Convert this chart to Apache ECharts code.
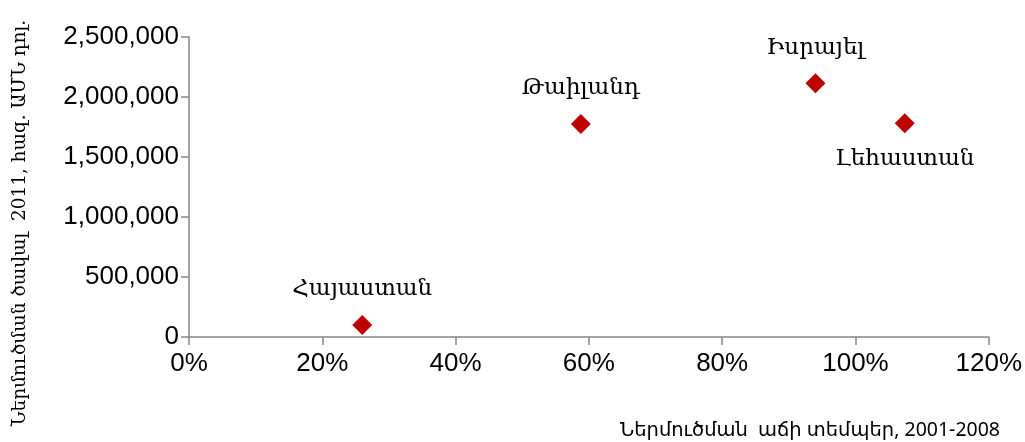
<!DOCTYPE html>
<html>
<head>
<meta charset="utf-8">
<script src="https://cdn.jsdelivr.net/npm/echarts@6/dist/echarts.min.js"></script>
<style>
  html, body { margin: 0; padding: 0; background: #fff; }
  #chart { width: 1025px; height: 442px; }
</style>
</head>
<body>
<div id="chart"></div>
<script>
// երկրներ, աճի տեմպ (%), ծավալ
var countries = ['Հայաստան', 'Թաիլանդ', 'Իսրայել', 'Լեհաստան'];
var growthPct = [26.0, 58.8, 94.0, 107.4];
var importVolume = [100000, 1775000, 2114000, 1781000];
var labelSide = ['top', 'top', 'top', 'bottom'];

var points = countries.map(function (name, i) {
    return {
        name: name,
        value: [growthPct[i], importVolume[i]],
        label: { position: labelSide[i] }
    };
});

var myChart = echarts.init(document.getElementById('chart'));
var axisGray = '#868686';

var option = {
    animation: false,
    grid: { left: 189, right: 36, top: 37, bottom: 105 },
    xAxis: {
        type: 'value',
        min: 0, max: 120, interval: 20,
        axisLine: { show: true, lineStyle: { color: axisGray, width: 1.5 } },
        axisTick: { show: true, length: 8, lineStyle: { color: axisGray, width: 1.5 } },
        splitLine: { show: false },
        axisLabel: {
            formatter: '{value}%',
            margin: 14,
            color: '#000',
            fontFamily: 'Liberation Sans, Arial, sans-serif',
            fontSize: 26
        }
    },
    yAxis: {
        type: 'value',
        min: 0, max: 2500000, interval: 500000,
        axisLine: { show: true, lineStyle: { color: axisGray, width: 1.5 } },
        axisTick: { show: true, length: 8, lineStyle: { color: axisGray, width: 1.5 } },
        splitLine: { show: false },
        axisLabel: {
            formatter: function (v) { return v.toLocaleString('en-US'); },
            margin: 10,
            color: '#000',
            fontFamily: 'Liberation Sans, Arial, sans-serif',
            fontSize: 26
        }
    },
    series: [{
        type: 'scatter',
        symbol: 'diamond',
        symbolSize: 20,
        itemStyle: { color: '#c00000', opacity: 1 },
        label: {
            show: true,
            formatter: '{b}',
            distance: 14,
            color: '#000',
            fontFamily: 'DejaVu Serif, serif',
            fontSize: 23
        },
        data: points
    }],
    graphic: [
        {
            type: 'text',
            x: 20, y: 223,
            rotation: Math.PI / 2,
            style: {
                text: 'Ներմուծման ծավալ  2011, հազ. ԱՄՆ դոլ.',
                fill: '#000',
                font: '18.5px "DejaVu Serif", serif',
                textAlign: 'center',
                textVerticalAlign: 'middle'
            }
        },
        {
            type: 'text',
            x: 1000, y: 430,
            style: {
                text: 'Ներմուծման  աճի տեմպեր, 2001-2008',
                fill: '#000',
                font: '19.5px "Noto Sans", "DejaVu Sans", sans-serif',
                textAlign: 'right',
                textVerticalAlign: 'middle'
            }
        }
    ]
};

myChart.setOption(option);
</script>
</body>
</html>
